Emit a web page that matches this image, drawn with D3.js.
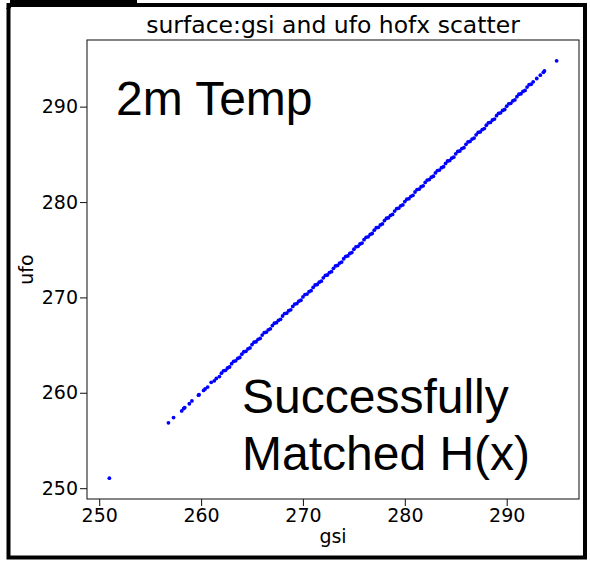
<!DOCTYPE html>
<html>
<head>
<meta charset="utf-8">
<script src="https://cdn.jsdelivr.net/npm/d3@7"></script>
<style>
  body { margin: 0; background: #fff; }
  svg { display: block; }
</style>
</head>
<body>
<svg id="chart" width="590" height="562"></svg>
<script>
// значения gsi (ось X) и ufo (ось Y)
const gsiVals = [
  251.0,
  256.8, 257.3, 258.1, 258.3, 258.4, 258.85, 259.1, 259.75, 259.8, 260.25, 260.4, 260.65,
  261.0, 261.3, 261.5, 261.8, 262.0, 262.2, 262.4, 262.6, 262.8, 263.0, 263.2, 263.4,
  263.6, 263.8, 264.0, 264.2, 264.4, 264.6, 264.8, 265.0, 265.2, 265.4, 265.6, 265.8,
  266.0, 266.2, 266.4, 266.6, 266.8, 267.0, 267.2, 267.4, 267.6, 267.8, 268.0, 268.2,
  268.4, 268.6, 268.8, 269.0, 269.2, 269.4, 269.6, 269.8, 270.0, 270.2, 270.4, 270.6,
  270.8, 271.0, 271.2, 271.4, 271.6, 271.8, 272.0, 272.2, 272.4, 272.6, 272.8, 273.0,
  273.2, 273.4, 273.6, 273.8, 274.0, 274.2, 274.4, 274.6, 274.8, 275.0, 275.2, 275.4,
  275.6, 275.8, 276.0, 276.2, 276.4, 276.6, 276.8, 277.0, 277.2, 277.4, 277.6, 277.8,
  278.0, 278.2, 278.4, 278.6, 278.8, 279.0, 279.2, 279.4, 279.6, 279.8, 280.0, 280.2,
  280.4, 280.6, 280.8, 281.0, 281.2, 281.4, 281.6, 281.8, 282.0, 282.2, 282.4, 282.6,
  282.8, 283.0, 283.2, 283.4, 283.6, 283.8, 284.0, 284.2, 284.4, 284.6, 284.8, 285.0,
  285.2, 285.4, 285.6, 285.8, 286.0, 286.2, 286.4, 286.6, 286.8, 287.0, 287.2, 287.4,
  287.6, 287.8, 288.0, 288.2, 288.4, 288.6, 288.8, 289.0, 289.2, 289.4, 289.6, 289.8,
  290.0, 290.2, 290.4, 290.6, 290.8, 291.0, 291.2, 291.4, 291.6, 291.8, 292.0, 292.2,
  292.4, 292.6, 292.95, 293.3, 293.6, 293.7,
  294.9
];
const ufoVals = [
  251.05,
  256.85, 257.4, 258.1, 258.35, 258.45, 258.85, 259.15, 259.75, 259.8, 260.25, 260.4, 260.6,
  261.1, 261.25, 261.5, 261.7, 262.05, 262.3, 262.35, 262.6, 262.7, 263.05, 263.3, 263.35,
  263.6, 263.7, 264.05, 264.3, 264.35, 264.6, 264.7, 265.05, 265.3, 265.35, 265.6, 265.7,
  266.05, 266.3, 266.35, 266.6, 266.7, 267.05, 267.3, 267.35, 267.6, 267.7, 268.05, 268.3,
  268.35, 268.6, 268.7, 269.05, 269.3, 269.35, 269.6, 269.7, 270.05, 270.3, 270.35, 270.6,
  270.7, 271.05, 271.3, 271.35, 271.6, 271.7, 272.05, 272.3, 272.35, 272.6, 272.7, 273.05,
  273.3, 273.35, 273.6, 273.7, 274.05, 274.3, 274.35, 274.6, 274.7, 275.05, 275.3, 275.35,
  275.6, 275.7, 276.05, 276.3, 276.35, 276.6, 276.7, 277.05, 277.3, 277.35, 277.6, 277.7,
  278.05, 278.3, 278.35, 278.6, 278.7, 279.05, 279.3, 279.35, 279.6, 279.7, 280.05, 280.3,
  280.35, 280.6, 280.7, 281.05, 281.3, 281.35, 281.6, 281.7, 282.05, 282.3, 282.35, 282.6,
  282.7, 283.05, 283.3, 283.35, 283.6, 283.7, 284.05, 284.3, 284.35, 284.6, 284.7, 285.05,
  285.3, 285.35, 285.6, 285.7, 286.05, 286.3, 286.35, 286.6, 286.7, 287.05, 287.3, 287.35,
  287.6, 287.7, 288.05, 288.3, 288.35, 288.6, 288.7, 289.05, 289.3, 289.35, 289.6, 289.7,
  290.05, 290.3, 290.35, 290.6, 290.7, 291.05, 291.3, 291.35, 291.6, 291.7, 292.05, 292.3,
  292.35, 292.6, 292.95, 293.3, 293.6, 293.75,
  294.8
];
const xTicks = [250, 260, 270, 280, 290];
const yTicks = [250, 260, 270, 280, 290];
const titleText = "surface:gsi and ufo hofx scatter";
const xLabel = "gsi";
const yLabel = "ufo";
const noteTop = "2m Temp";
const noteBottom = ["Successfully", "Matched H(x)"];

const svg = d3.select("#chart");

// область графика
const area = { left: 87, right: 579, top: 40, bottom: 499 };

const points = gsiVals.map((g, i) => ({ x: g, y: ufoVals[i] }));

// поля 5% как в matplotlib
function padExtent(vals) {
  const [a, b] = d3.extent(vals);
  const m = (b - a) * 0.05;
  return [a - m, b + m];
}

const scX = d3.scaleLinear().domain(padExtent(gsiVals)).range([area.left, area.right]);
const scY = d3.scaleLinear().domain(padExtent(ufoVals)).range([area.bottom, area.top]);

// внешняя чёрная рамка
svg.append("rect")
  .attr("x", 8.5).attr("y", 5)
  .attr("width", 576.5).attr("height", 552.5)
  .attr("fill", "none")
  .attr("stroke", "#000")
  .attr("stroke-width", 4);

// обрезанный кусочек текста сверху слева
svg.append("path")
  .attr("d", "M6,9 L12,0 L16,0 L10,9 Z")
  .attr("fill", "#000");
svg.append("rect")
  .attr("x", 10).attr("y", 0).attr("width", 126).attr("height", 4)
  .attr("fill", "#000");
svg.append("rect")
  .attr("x", 134).attr("y", 0).attr("width", 3).attr("height", 6)
  .attr("fill", "#000");

// точки
svg.append("g")
  .selectAll("circle")
  .data(points)
  .enter()
  .append("circle")
  .attr("cx", d => scX(d.x))
  .attr("cy", d => scY(d.y))
  .attr("r", 1.9)
  .style("fill", "#0000ff");

// оси
const axisFont = "DejaVu Sans, sans-serif";

let gx = svg.append("g")
  .attr("transform", `translate(0, ${area.bottom})`)
  .call(d3.axisBottom(scX).tickValues(xTicks).tickSize(7).tickPadding(2.5).tickFormat(d3.format("d")));
let gy = svg.append("g")
  .attr("transform", `translate(${area.left}, 0)`)
  .call(d3.axisLeft(scY).tickValues(yTicks).tickSize(7).tickPadding(2).tickFormat(d3.format("d")));

[gx, gy].forEach(g => {
  g.select(".domain").remove();
  g.selectAll("line").attr("stroke", "#222").attr("stroke-width", 1.1);
  g.selectAll("text")
    .style("font-family", axisFont)
    .style("font-size", "19px")
    .attr("fill", "#000");
});

// рамка области графика
svg.append("rect")
  .attr("x", area.left).attr("y", area.top)
  .attr("width", area.right - area.left)
  .attr("height", area.bottom - area.top)
  .attr("fill", "none")
  .attr("stroke", "#222")
  .attr("stroke-width", 1.1);

// заголовок и подписи осей
svg.append("text")
  .attr("x", (area.left + area.right) / 2)
  .attr("y", 33)
  .attr("text-anchor", "middle")
  .style("font-family", axisFont)
  .style("font-size", "23.5px")
  .text(titleText);

svg.append("text")
  .attr("x", (area.left + area.right) / 2)
  .attr("y", 543)
  .attr("text-anchor", "middle")
  .style("font-family", axisFont)
  .style("font-size", "19px")
  .text(xLabel);

svg.append("text")
  .attr("transform", `translate(33, ${(area.top + area.bottom) / 2}) rotate(-90)`)
  .attr("text-anchor", "middle")
  .style("font-family", axisFont)
  .style("font-size", "19px")
  .text(yLabel);

// надписи внутри графика
const noteFont = "Liberation Sans, Arial, sans-serif";
svg.append("text")
  .attr("x", 116)
  .attr("y", 115)
  .style("font-family", noteFont)
  .style("font-size", "48px")
  .text(noteTop);

svg.append("text")
  .attr("x", 242)
  .attr("y", 413)
  .style("font-family", noteFont)
  .style("font-size", "48px")
  .selectAll("tspan")
  .data(noteBottom)
  .enter()
  .append("tspan")
  .attr("x", 242)
  .attr("dy", (d, i) => i == 0 ? 0 : 57)
  .text(d => d);
</script>
</body>
</html>
